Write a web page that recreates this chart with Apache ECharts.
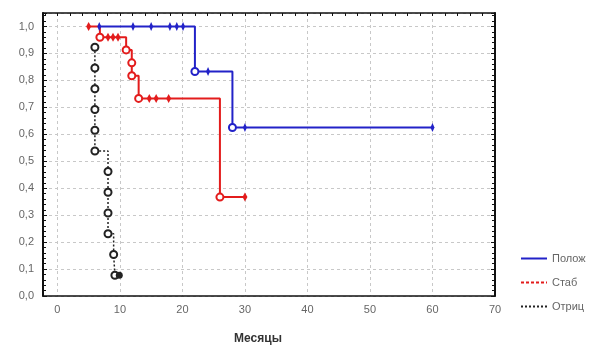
<!DOCTYPE html>
<html><head><meta charset="utf-8">
<script src="https://cdn.jsdelivr.net/npm/echarts@6/dist/echarts.min.js"></script>
<style>html,body{margin:0;padding:0;background:#fff}#c{width:602px;height:350px}</style>
</head><body><div id="c"></div>
<script>
// Tick labels
const xTicks = [0, 10, 20, 30, 40, 50, 60, 70];
const xMinorTicks = [-2, 0, 2, 4, 6, 8, 10, 12, 14, 16, 18, 20, 22, 24, 26, 28, 30, 32, 34, 36, 38, 40, 42, 44, 46, 48, 50, 52, 54, 56, 58, 60, 62, 64, 66, 68, 70];
const yTicks = [0, 0.1, 0.2, 0.3, 0.4, 0.5, 0.6, 0.7, 0.8, 0.9, 1.0];

// Series: Полож (blue)  e = event (open circle), c = censored
const posX = [6.7, 12.1, 15.0, 18.0, 19.1, 20.1, 22.0, 24.1, 28.0, 30.0, 60.0];
const posY = [1.0, 1.0, 1.0, 1.0, 1.0, 1.0, 0.833, 0.833, 0.625, 0.625, 0.625];
const posK = ['c','c','c','c','c','c','e','c','e','c','c'];

// Series: Стаб (red)
const stabX = [5.0, 6.8, 8.1, 8.9, 9.7, 11.0, 11.9, 11.9, 13.0, 14.7, 15.8, 17.8, 26.0, 30.0];
const stabY = [1.0, 0.96, 0.96, 0.96, 0.96, 0.913, 0.865, 0.817, 0.733, 0.733, 0.733, 0.733, 0.367, 0.367];
const stabK = ['c','e','c','c','c','e','e','e','e','c','c','c','e','c'];

// Series: Отриц (black)
const negX = [6.0, 6.0, 6.0, 6.0, 6.0, 6.0, 8.1, 8.1, 8.1, 8.1, 9.0, 9.2, 9.9];
const negY = [0.923, 0.846, 0.769, 0.692, 0.615, 0.538, 0.462, 0.385, 0.308, 0.231, 0.154, 0.077, 0.077];
const negK = ['e','e','e','e','e','e','e','e','e','e','e','e','c'];

function build(xs, ys, ks, censorSymbol, censorSize) {
  return xs.map((x, i) => ({
    value: [x, ys[i]],
    symbol: ks[i] === 'e' ? 'emptyCircle' : censorSymbol,
    symbolSize: ks[i] === 'e' ? 7 : censorSize
  }));
}

const fmtY = v => v.toFixed(1).replace('.', ',');
const FONT = '"Liberation Sans", Arial, sans-serif';

const chart = echarts.init(document.getElementById('c'));
chart.setOption({
  animation: false,
  backgroundColor: '#fff',
  grid: { left: 43, right: 107, top: 13, bottom: 48, containLabel: false },
  legend: {
    orient: 'vertical', left: 520, top: 253, padding: 0,
    itemWidth: 26, itemHeight: 10, itemGap: 13,
    itemStyle: { opacity: 0 },
    textStyle: { color: '#666', fontSize: 11, fontFamily: FONT },
    data: [
      { name: 'Полож' },
      { name: 'Стаб', lineStyle: { type: [3, 2] } },
      { name: 'Отриц' }
    ]
  },
  xAxis: [{
    type: 'value', min: -2.3, max: 70, position: 'bottom',
    axisLine: { show: true, onZero: false, lineStyle: { color: '#111', width: 1.5 } },
    axisTick: { show: false, customValues: xTicks },
    axisLabel: { customValues: xTicks, color: '#666', fontSize: 11, fontFamily: FONT, margin: 8 },
    splitLine: { show: true, lineStyle: { color: '#c8c8c8', type: [3, 3], width: 1 } },
    name: 'Месяцы', nameLocation: 'middle', nameGap: 37,
    nameTextStyle: { color: '#333', fontSize: 12, fontWeight: 'bold', fontFamily: FONT, padding: [0, 22, 0, 0] }
  }, {
    type: 'value', min: -2.3, max: 70, position: 'top',
    axisLine: { show: true, onZero: false, lineStyle: { color: '#111', width: 1.5 } },
    axisTick: { show: true, inside: true, length: 3, customValues: xMinorTicks, lineStyle: { color: '#111' } },
    axisLabel: { show: false },
    splitLine: { show: false }
  }],
  yAxis: [{
    type: 'value', min: 0, max: 1.05, interval: 0.1, position: 'left',
    axisLine: { show: true, onZero: false, lineStyle: { color: '#111', width: 2 } },
    axisTick: { show: true, inside: true, length: 4, lineStyle: { color: '#111' } },
    minorTick: { show: true, splitNumber: 5, length: 3, lineStyle: { color: '#111' } },
    axisLabel: { color: '#666', fontSize: 11, fontFamily: FONT, margin: 9,
      customValues: yTicks, formatter: fmtY },
    splitLine: { show: true, lineStyle: { color: '#c8c8c8', type: [3, 3], width: 1 } }
  }, {
    type: 'value', min: 0, max: 1.05, interval: 0.1, position: 'right',
    axisLine: { show: true, onZero: false, lineStyle: { color: '#111', width: 2 } },
    axisTick: { show: true, inside: true, length: 4, lineStyle: { color: '#111' } },
    minorTick: { show: true, splitNumber: 5, length: 3, lineStyle: { color: '#111' } },
    axisLabel: { show: false },
    splitLine: { show: false }
  }],
  series: [{
    name: 'Стаб', type: 'line', step: 'end', symbol: 'none', showSymbol: true,
    color: '#e31c1c',
    lineStyle: { color: '#e31c1c', width: 2 },
    itemStyle: { color: '#e31c1c', borderWidth: 1.5 },
    data: build(stabX, stabY, stabK, 'diamond', [5, 9]),
    z: 3
  }, {
    name: 'Полож', type: 'line', step: 'end', symbol: 'none', showSymbol: true,
    color: '#2222c8',
    lineStyle: { color: '#2222c8', width: 2 },
    itemStyle: { color: '#2222c8', borderWidth: 1.5 },
    data: build(posX, posY, posK, 'diamond', [4, 9]),
    z: 4
  }, {
    name: 'Отриц', type: 'line', step: 'end', symbol: 'none', showSymbol: true,
    color: '#222',
    lineStyle: { color: '#222', width: 1.5, type: [2, 2] },
    itemStyle: { color: '#222', borderWidth: 1.5 },
    data: build(negX, negY, negK, 'circle', 7),
    z: 5
  }]
});
</script>
</body></html>
